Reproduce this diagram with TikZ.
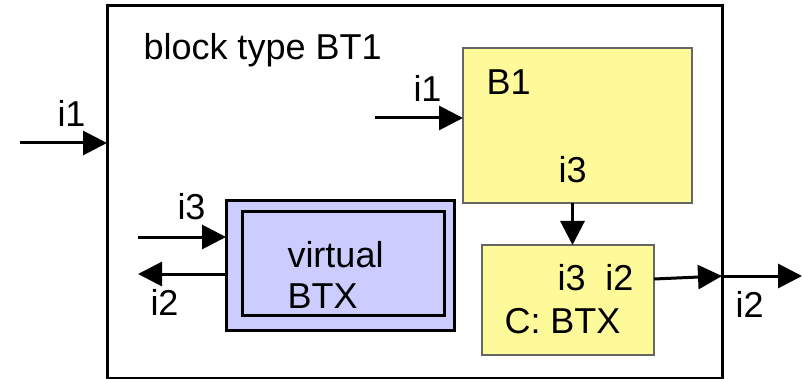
\documentclass[tikz,border=0pt]{standalone}
\usepackage{fontspec}
\setmainfont{Liberation Sans}
\usetikzlibrary{arrows.meta}
\tikzset{>={Triangle[length=24pt,width=24pt]},
  lbl/.style={anchor=base west, inner sep=0pt, font=\fontsize{36}{40}\selectfont},
  blk/.style={draw, anchor=north west, inner sep=0pt, outer sep=0pt},
  ybox/.style={blk, fill=yellow!40!white, draw=black!60, line width=1.5pt},
  vbox/.style={blk, fill=blue!20!white, line width=3pt}}

\begin{document}
\begin{tikzpicture}[x=1pt, y=-1pt, line width=3pt]
    \useasboundingbox (0,0) rectangle (802,379);
    \node[blk, minimum width=615pt, minimum height=372pt] (BT) at (107,6) {};
    \node[ybox, minimum width=229pt, minimum height=155pt] (B1) at (463,48) {};
    \node[ybox, minimum width=172pt, minimum height=110pt] (C) at (482,245) {};
    \node[vbox, minimum width=228pt, minimum height=129pt] (V) at (226,201) {};
    \node[vbox, minimum width=202pt, minimum height=103pt] (Vin) at (242,212) {};
    \coordinate (inI1) at (20,143);
    \coordinate (inB1) at (375,118);
    \coordinate (inV) at (138,237);
    \coordinate (outV) at (138,274);
    \coordinate (outC) at (722,276);
    \coordinate (outI2) at (802,276);
    \draw[->] (inI1) -- (inI1 -| BT.west);
    \draw[->] (inB1) -- (inB1 -| B1.west);
    \draw[->] ([xshift=-5pt]B1.south) -- ([xshift=-5pt]B1.south |- C.north);
    \draw[->] ([yshift=21pt]C.east) -- (outC);
    \draw[->] (outC) -- (outI2);
    \draw[->] (inV) -- (inV -| V.west);
    \draw[->] (outV -| V.west) -- (outV);
    \node[lbl] (tBT) at (142,60) {block type BT1};
    \node[lbl] (tI1) at (56,127) {i1};
    \node[lbl] (tB1i1) at (412,102) {i1};
    \node[lbl] (tB1) at (485,95) {B1};
    \node[lbl] (tB1i3) at (557,183) {i3};
    \node[lbl] (tCports) at (556,290) {i3\hspace{20pt}i2};
    \node[lbl] (tC) at (503,333) {C: BTX};
    \node[lbl] (tI2) at (734,317) {i2};
    \node[lbl] (tVi3) at (176,220) {i3};
    \node[lbl] (tVi2) at (149,315) {i2};
    \node[lbl] (tV1) at (286,267) {virtual};
    \node[lbl] (tV2) at (286,308) {BTX};
\end{tikzpicture}
\end{document}
